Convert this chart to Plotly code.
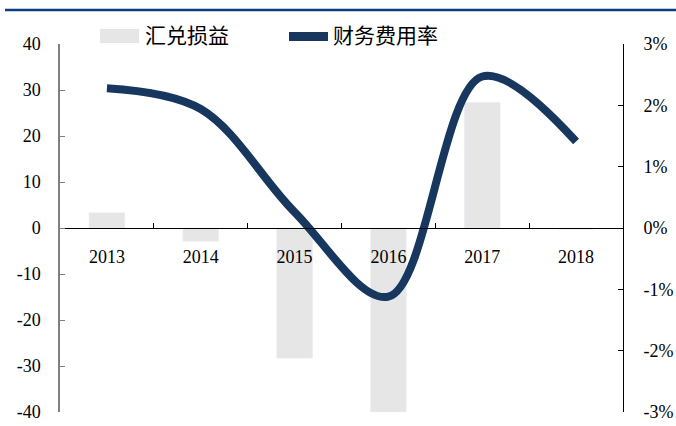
import plotly.graph_objects as go

years = ["2013", "2014", "2015", "2016", "2017", "2018"]
fx_gain = [3.3, -2.9, -28.3, -40.0, 27.3, -0.3]          # 汇兑损益
fin_rate = [0.0228, 0.0194, 0.0026, -0.0112, 0.0247, 0.0141]  # 财务费用率

left_ticks = [-40, -30, -20, -10, 0, 10, 20, 30, 40]
left_labels = ["-40", "-30", "-20", "-10", "0", "10", "20", "30", "40"]
right_ticks = [-0.03, -0.02, -0.01, 0.0, 0.01, 0.02, 0.03]
right_labels = ["-3%", "-2%", "-1%", "0%", "1%", "2%", "3%"]

W, H = 676, 426
L, R, T, B = 60, 623, 44, 412

def px(x):
    return (x - L) / (R - L)

def py(y):
    return (B - y) / (B - T)

FONT = "Liberation Serif, Noto Sans CJK SC, serif"
TICKFONT = dict(family="Liberation Serif", size=18, color="#000")
BAR_C = "#e6e6e6"
LINE_C = "#17375e"

fig = go.Figure()
fig.add_trace(go.Bar(x=years, y=fx_gain, name="汇兑损益", marker_color=BAR_C,
                     width=0.38, yaxis="y", showlegend=False))
fig.add_trace(go.Scatter(x=years, y=fin_rate, name="财务费用率", mode="lines",
                         line=dict(color=LINE_C, width=8, shape="spline", smoothing=1.0),
                         yaxis="y2", showlegend=False))

shapes = [
    dict(type="line", xref="paper", yref="paper", x0=px(5), x1=px(676), y0=py(10), y1=py(10),
         line=dict(color="#0d3d7d", width=2.5)),
    dict(type="rect", xref="paper", yref="paper", x0=px(100), x1=px(139), y0=py(43), y1=py(29),
         fillcolor=BAR_C, line=dict(width=0)),
    dict(type="rect", xref="paper", yref="paper", x0=px(289), x1=px(328), y0=py(41), y1=py(32),
         fillcolor=LINE_C, line=dict(width=0)),
]
annotations = [
    dict(text="汇兑损益", xref="paper", yref="paper", x=px(143), y=py(36), xanchor="left",
         yanchor="middle", showarrow=False, font=dict(size=21, color="#000", family=FONT)),
    dict(text="财务费用率", xref="paper", yref="paper", x=px(331), y=py(36), xanchor="left",
         yanchor="middle", showarrow=False, font=dict(size=21, color="#000", family=FONT)),
]

fig.update_layout(
    width=W, height=H,
    margin=dict(l=L, r=W - R, t=T, b=H - B, autoexpand=False),
    paper_bgcolor="white", plot_bgcolor="white",
    font=dict(family=FONT, size=18, color="#000"),
    showlegend=False,
    shapes=shapes, annotations=annotations,
    xaxis=dict(type="category", anchor="free", position=0.5, showline=True, linecolor="#000",
               linewidth=1, ticks="inside", ticklen=5, tickcolor="#000", tickson="boundaries",
               showgrid=False, zeroline=False, ticklabelstandoff=12, range=[-0.5, 5.5],
               automargin=False, tickfont=TICKFONT),
    yaxis=dict(range=[-40, 40], tickvals=left_ticks, ticktext=left_labels, showline=True,
               linecolor="#808080", linewidth=1.5, ticks="inside", ticklen=5, tickcolor="#808080",
               showgrid=False, zeroline=False, ticklabelstandoff=14, automargin=False,
               tickfont=TICKFONT),
    yaxis2=dict(range=[-0.03, 0.03], tickvals=right_ticks, ticktext=right_labels,
                overlaying="y", side="right", showline=True, linecolor="#000", linewidth=1,
                ticks="inside", ticklen=5, tickcolor="#000", showgrid=False, zeroline=False,
                ticklabelstandoff=16, automargin=False, tickfont=TICKFONT),
)

fig.write_html("out.html")
